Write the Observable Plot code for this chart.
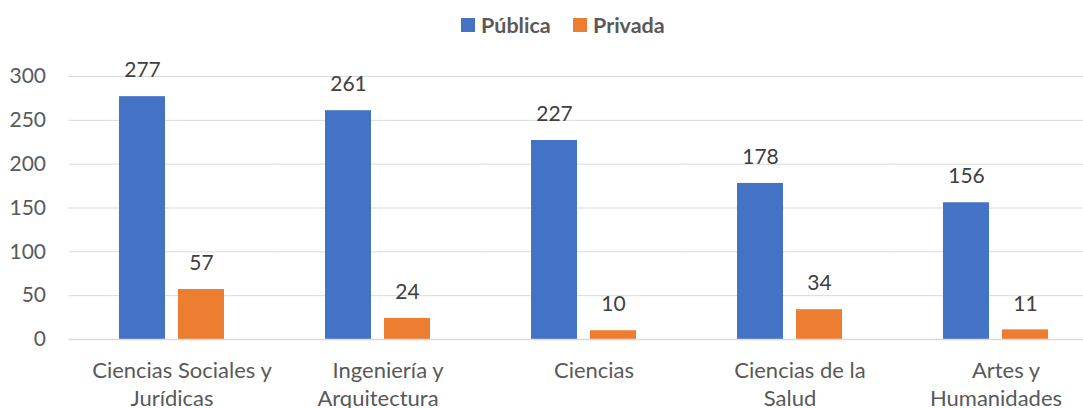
<!DOCTYPE html>
<html>
<head>
<meta charset="utf-8">
<script src="https://cdn.jsdelivr.net/npm/d3@7"></script>
<script src="https://cdn.jsdelivr.net/npm/@observablehq/plot@0.6"></script>
<style>
  html, body { margin: 0; padding: 0; background: #fff; }
  body { font-family: Lato, "Open Sans", sans-serif; width: 1083px; height: 408px; overflow: hidden; }
  #legend { position: relative; height: 45px; }
  .item { position: absolute; top: 12px; display: flex; align-items: center; font-weight: bold; font-size: 21.5px; color: #595959; }
  .sw { width: 14px; height: 14px; margin-right: 6px; }
</style>
</head>
<body>
<div id="legend"></div>
<div id="chart"></div>
<script>
const categories = ["Ciencias Sociales y Jurídicas", "Ingeniería y Arquitectura", "Ciencias", "Ciencias de la Salud", "Artes y Humanidades"];
const labelLine1 = ["Ciencias Sociales y", "Ingeniería y", "Ciencias", "Ciencias de la", "Artes y"];
const labelLine2 = ["Jurídicas", "Arquitectura", "", "Salud", "Humanidades"];
const series = ["Pública", "Privada"];
const publica = [277, 261, 227, 178, 156];
const privada = [57, 24, 10, 34, 11];
const colors = ["#4472C4", "#ED7D31"];
const yTicks = [0, 50, 100, 150, 200, 250, 300];

const data = categories.flatMap((c, i) => [
  {cat: c, series: series[0], value: publica[i]},
  {cat: c, series: series[1], value: privada[i]}
]);
const labels = categories.map((c, i) => ({cat: c, l1: labelLine1[i], l2: labelLine2[i]}));

// Legend
const legend = document.getElementById("legend");
const legendPos = [461, 573];
series.forEach((s, i) => {
  const it = document.createElement("div");
  it.className = "item";
  it.style.left = legendPos[i] + "px";
  const sw = document.createElement("span");
  sw.className = "sw";
  sw.style.background = colors[i];
  it.appendChild(sw);
  it.appendChild(document.createTextNode(s));
  legend.appendChild(it);
});

const fontSize = 21;
const catSize = 22;
const chart = Plot.plot({
  width: 1083,
  height: 363,
  marginTop: 31,
  marginBottom: 69,
  marginLeft: 69,
  marginRight: 0,
  style: {fontFamily: "Lato, 'Open Sans', sans-serif", fontSize: fontSize + "px", color: "#595959", background: "#fff"},
  fx: {domain: categories, range: [68.5, 1098.5], padding: 0, axis: null, round: false},
  x: {domain: series, paddingInner: 13 / 59, paddingOuter: 0.856, axis: null, round: false},
  y: {domain: [0, 300], ticks: yTicks, tickSize: 0, tickPadding: 23, label: null, fontSize: fontSize},
  color: {domain: series, range: colors},
  marks: [
    Plot.ruleY(yTicks.slice(1), {stroke: "#d9d9d9", strokeWidth: 1}),
    Plot.barY(data, {fx: "cat", x: "series", y: "value", fill: "series"}),
    Plot.ruleY([0], {stroke: "#d9d9d9", strokeWidth: 1.5}),
    Plot.text(data, {fx: "cat", x: "series", y: "value", text: d => String(d.value), dy: -26, lineAnchor: "middle", fill: "#404040", fontSize: fontSize}),
    Plot.text(labels, {fx: "cat", text: "l1", frameAnchor: "bottom", dy: 31, dx: 10, lineAnchor: "middle", fill: "#595959", fontSize: catSize}),
    Plot.text(labels, {fx: "cat", text: "l2", frameAnchor: "bottom", dy: 59, lineAnchor: "middle", fill: "#595959", fontSize: catSize})
  ]
});
document.getElementById("chart").appendChild(chart);
</script>
</body>
</html>
